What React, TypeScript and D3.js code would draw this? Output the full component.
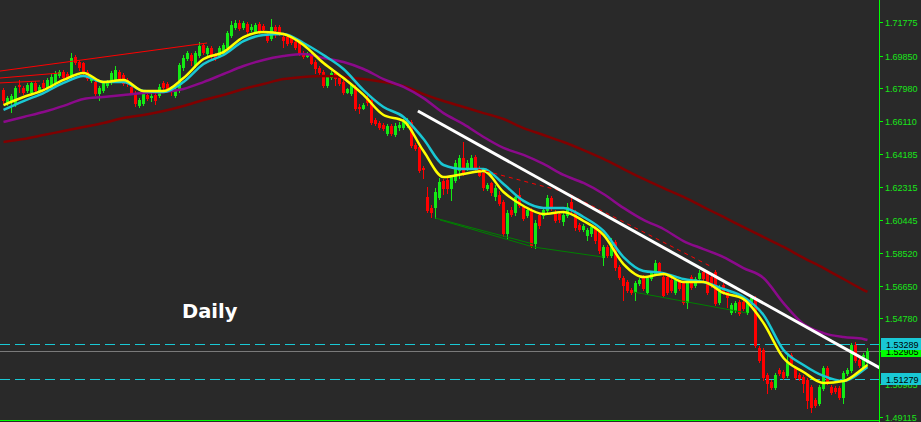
import React, { useEffect, useRef } from 'react';
import * as d3 from 'd3';

// daily candles, oldest first (prices)
const opens = [
  1.6787, 1.6713, 1.6730, 1.6713, 1.6816, 1.6799, 1.6787, 1.6776, 1.6828, 1.6787,
  1.6828, 1.6805, 1.6805, 1.6828, 1.6873, 1.6891, 1.6879, 1.6873, 1.6977, 1.6948,
  1.6942, 1.6891, 1.6845, 1.6833, 1.6770, 1.6787, 1.6816, 1.6833, 1.6845, 1.6891,
  1.6873, 1.6845, 1.6805, 1.6770, 1.6701, 1.6713, 1.6759, 1.6747, 1.6759, 1.6759,
  1.6828, 1.6822, 1.6805, 1.6759, 1.6787, 1.6919, 1.6971, 1.6988, 1.6931, 1.6988,
  1.7046, 1.7000, 1.7028, 1.6988, 1.6988, 1.7005, 1.7034, 1.7103, 1.7149, 1.7172,
  1.7149, 1.7166, 1.7137, 1.7126, 1.7166, 1.7155, 1.7103, 1.7086, 1.7149, 1.7149,
  1.7091, 1.7091, 1.7086, 1.7063, 1.7057, 1.7000, 1.6982, 1.6988, 1.6948, 1.6914,
  1.6891, 1.6816, 1.6862, 1.6885, 1.6862, 1.6833, 1.6776, 1.6770, 1.6805, 1.6690,
  1.6684, 1.6741, 1.6730, 1.6615, 1.6598, 1.6587, 1.6541, 1.6581, 1.6535, 1.6575,
  1.6575, 1.6587, 1.6604, 1.6472, 1.6460, 1.6340, 1.6174, 1.6111, 1.6117, 1.6174,
  1.6265, 1.6271, 1.6225, 1.6271, 1.6328, 1.6397, 1.6340, 1.6346, 1.6403, 1.6340,
  1.6311, 1.6225, 1.6254, 1.6179, 1.6185, 1.6145, 1.5967, 1.6099, 1.6088, 1.6185,
  1.6116, 1.6070, 1.6099, 1.5910, 1.6070, 1.6070, 1.6099, 1.6168, 1.6088, 1.6076,
  1.6036, 1.6070, 1.6145, 1.6088, 1.6013, 1.5990, 1.5955, 1.5967, 1.5996, 1.5973,
  1.5829, 1.5887, 1.5841, 1.5915, 1.5772, 1.5709, 1.5686, 1.5640, 1.5629, 1.5680,
  1.5714, 1.5629, 1.5709, 1.5737, 1.5795, 1.5714, 1.5714, 1.5697, 1.5629, 1.5686,
  1.5680, 1.5571, 1.5714, 1.5669, 1.5709, 1.5743, 1.5737, 1.5714, 1.5743, 1.5571,
  1.5669, 1.5629, 1.5514, 1.5525, 1.5571, 1.5571, 1.5514, 1.5571, 1.5594, 1.5307,
  1.5296, 1.5152, 1.5112, 1.5084, 1.5181, 1.5170, 1.5152, 1.5267, 1.5193, 1.5152,
  1.5141, 1.5124, 1.5084, 1.5009, 1.4992, 1.5078, 1.5193, 1.5084, 1.5078, 1.5078,
  1.5026, 1.5164, 1.5181, 1.5325, 1.5238, 1.5198, 1.5227
];
const highs = [
  1.6799, 1.6753, 1.6764, 1.6810, 1.6845, 1.6810, 1.6828, 1.6833, 1.6839, 1.6816,
  1.6845, 1.6856, 1.6879, 1.6896, 1.6902, 1.6902, 1.6891, 1.7000, 1.6988, 1.6960,
  1.6948, 1.6902, 1.6868, 1.6845, 1.6810, 1.6833, 1.6845, 1.6896, 1.6925, 1.6902,
  1.6885, 1.6856, 1.6816, 1.6782, 1.6741, 1.6776, 1.6770, 1.6770, 1.6770, 1.6822,
  1.6839, 1.6833, 1.6810, 1.6799, 1.6942, 1.6988, 1.7011, 1.7000, 1.7011, 1.7063,
  1.7057, 1.7040, 1.7040, 1.7000, 1.7040, 1.7057, 1.7126, 1.7183, 1.7189, 1.7189,
  1.7183, 1.7178, 1.7166, 1.7172, 1.7178, 1.7166, 1.7114, 1.7195, 1.7160, 1.7160,
  1.7103, 1.7103, 1.7097, 1.7074, 1.7068, 1.7011, 1.7005, 1.7000, 1.6960, 1.6925,
  1.6902, 1.6873, 1.6896, 1.6896, 1.6873, 1.6845, 1.6799, 1.6828, 1.6816, 1.6707,
  1.6713, 1.6759, 1.6741, 1.6627, 1.6610, 1.6598, 1.6592, 1.6592, 1.6598, 1.6604,
  1.6621, 1.6627, 1.6615, 1.6483, 1.6472, 1.6351, 1.6231, 1.6128, 1.6225, 1.6283,
  1.6277, 1.6283, 1.6300, 1.6386, 1.6414, 1.6489, 1.6386, 1.6414, 1.6414, 1.6351,
  1.6323, 1.6254, 1.6260, 1.6242, 1.6208, 1.6156, 1.6099, 1.6116, 1.6185, 1.6225,
  1.6128, 1.6111, 1.6111, 1.6042, 1.6082, 1.6116, 1.6185, 1.6179, 1.6099, 1.6088,
  1.6088, 1.6139, 1.6174, 1.6099, 1.6024, 1.6019, 1.5996, 1.6013, 1.6007, 1.5984,
  1.5898, 1.5898, 1.5938, 1.5927, 1.5783, 1.5720, 1.5697, 1.5652, 1.5692, 1.5709,
  1.5726, 1.5720, 1.5749, 1.5812, 1.5801, 1.5726, 1.5726, 1.5709, 1.5709, 1.5697,
  1.5692, 1.5692, 1.5726, 1.5714, 1.5755, 1.5755, 1.5749, 1.5726, 1.5755, 1.5669,
  1.5680, 1.5640, 1.5566, 1.5577, 1.5583, 1.5583, 1.5577, 1.5611, 1.5606, 1.5319,
  1.5307, 1.5164, 1.5124, 1.5164, 1.5193, 1.5181, 1.5267, 1.5279, 1.5204, 1.5164,
  1.5152, 1.5135, 1.5095, 1.5020, 1.5095, 1.5204, 1.5204, 1.5095, 1.5089, 1.5089,
  1.5175, 1.5192, 1.5336, 1.5342, 1.5250, 1.5279, 1.5307
];
const lows = [
  1.6713, 1.6701, 1.6661, 1.6696, 1.6776, 1.6764, 1.6776, 1.6764, 1.6776, 1.6776,
  1.6793, 1.6793, 1.6793, 1.6816, 1.6862, 1.6845, 1.6845, 1.6862, 1.6937, 1.6902,
  1.6879, 1.6845, 1.6833, 1.6759, 1.6730, 1.6776, 1.6805, 1.6822, 1.6833, 1.6845,
  1.6816, 1.6810, 1.6764, 1.6696, 1.6690, 1.6701, 1.6730, 1.6724, 1.6707, 1.6747,
  1.6793, 1.6787, 1.6759, 1.6747, 1.6776, 1.6902, 1.6960, 1.6931, 1.6919, 1.6977,
  1.6994, 1.6988, 1.6971, 1.6960, 1.6977, 1.6994, 1.7023, 1.7091, 1.7137, 1.7132,
  1.7137, 1.7114, 1.7126, 1.7114, 1.7114, 1.7126, 1.7063, 1.7074, 1.7091, 1.7103,
  1.7034, 1.7046, 1.7051, 1.7023, 1.6988, 1.6971, 1.6977, 1.6937, 1.6885, 1.6873,
  1.6805, 1.6805, 1.6850, 1.6816, 1.6816, 1.6764, 1.6770, 1.6759, 1.6673, 1.6655,
  1.6678, 1.6701, 1.6592, 1.6587, 1.6564, 1.6558, 1.6529, 1.6529, 1.6524, 1.6558,
  1.6564, 1.6575, 1.6460, 1.6443, 1.6317, 1.6283, 1.6088, 1.6059, 1.6053, 1.6162,
  1.6191, 1.6197, 1.6156, 1.6260, 1.6283, 1.6300, 1.6328, 1.6334, 1.6328, 1.6294,
  1.6214, 1.6214, 1.6185, 1.6156, 1.6128, 1.5950, 1.5938, 1.6065, 1.6070, 1.6116,
  1.6042, 1.6059, 1.5887, 1.5881, 1.5996, 1.6053, 1.6088, 1.6099, 1.6030, 1.6030,
  1.6013, 1.6059, 1.6088, 1.5984, 1.5979, 1.5979, 1.5927, 1.5950, 1.5910, 1.5852,
  1.5783, 1.5829, 1.5829, 1.5755, 1.5703, 1.5583, 1.5629, 1.5617, 1.5583, 1.5669,
  1.5640, 1.5617, 1.5697, 1.5726, 1.5732, 1.5600, 1.5617, 1.5629, 1.5617, 1.5640,
  1.5560, 1.5537, 1.5646, 1.5657, 1.5697, 1.5697, 1.5617, 1.5657, 1.5554, 1.5560,
  1.5617, 1.5543, 1.5503, 1.5514, 1.5497, 1.5525, 1.5503, 1.5560, 1.5313, 1.5227,
  1.5124, 1.5049, 1.5072, 1.5072, 1.5152, 1.5129, 1.5141, 1.5210, 1.5129, 1.5124,
  1.5055, 1.4963, 1.4940, 1.4969, 1.4980, 1.5066, 1.5101, 1.5043, 1.5049, 1.5015,
  1.4992, 1.5152, 1.5170, 1.5227, 1.5198, 1.5187, 1.5216
];
const closes = [
  1.6730, 1.6741, 1.6753, 1.6799, 1.6810, 1.6776, 1.6816, 1.6828, 1.6787, 1.6805,
  1.6805, 1.6845, 1.6862, 1.6885, 1.6891, 1.6862, 1.6856, 1.6971, 1.6948, 1.6919,
  1.6891, 1.6856, 1.6856, 1.6770, 1.6799, 1.6828, 1.6833, 1.6885, 1.6902, 1.6856,
  1.6828, 1.6828, 1.6776, 1.6713, 1.6730, 1.6770, 1.6741, 1.6753, 1.6730, 1.6805,
  1.6805, 1.6799, 1.6787, 1.6787, 1.6931, 1.6971, 1.7000, 1.6960, 1.7000, 1.7040,
  1.7005, 1.7028, 1.6988, 1.6971, 1.7028, 1.7046, 1.7114, 1.7160, 1.7172, 1.7143,
  1.7172, 1.7126, 1.7149, 1.7160, 1.7126, 1.7137, 1.7074, 1.7149, 1.7132, 1.7120,
  1.7074, 1.7057, 1.7063, 1.7034, 1.7000, 1.6982, 1.6994, 1.6942, 1.6914, 1.6891,
  1.6816, 1.6862, 1.6885, 1.6856, 1.6828, 1.6776, 1.6793, 1.6816, 1.6684, 1.6684,
  1.6701, 1.6719, 1.6604, 1.6598, 1.6575, 1.6570, 1.6581, 1.6541, 1.6581, 1.6587,
  1.6604, 1.6610, 1.6472, 1.6455, 1.6328, 1.6334, 1.6099, 1.6088, 1.6202, 1.6260,
  1.6225, 1.6225, 1.6288, 1.6369, 1.6397, 1.6311, 1.6369, 1.6397, 1.6346, 1.6300,
  1.6231, 1.6242, 1.6202, 1.6225, 1.6139, 1.5967, 1.6082, 1.6076, 1.6174, 1.6128,
  1.6053, 1.6099, 1.5898, 1.6024, 1.6013, 1.6099, 1.6168, 1.6116, 1.6042, 1.6047,
  1.6070, 1.6116, 1.6099, 1.6001, 1.5990, 1.6007, 1.5984, 1.6001, 1.5927, 1.5869,
  1.5887, 1.5841, 1.5915, 1.5772, 1.5714, 1.5669, 1.5640, 1.5629, 1.5680, 1.5697,
  1.5652, 1.5709, 1.5737, 1.5795, 1.5743, 1.5611, 1.5629, 1.5640, 1.5697, 1.5652,
  1.5571, 1.5680, 1.5657, 1.5703, 1.5737, 1.5709, 1.5629, 1.5669, 1.5566, 1.5657,
  1.5629, 1.5600, 1.5554, 1.5566, 1.5508, 1.5537, 1.5566, 1.5594, 1.5325, 1.5238,
  1.5141, 1.5107, 1.5084, 1.5152, 1.5164, 1.5141, 1.5227, 1.5221, 1.5141, 1.5135,
  1.5107, 1.5009, 1.4969, 1.4980, 1.5084, 1.5193, 1.5112, 1.5055, 1.5061, 1.5026,
  1.5164, 1.5181, 1.5325, 1.5238, 1.5210, 1.5267, 1.52905
];

// moving averages, read every 5th bar
const maBars = [
  0, 5, 10, 15, 20, 25, 30, 35, 40, 45, 50, 55, 60, 65, 70, 75, 80, 85, 90, 95,
  100, 105, 110, 115, 120, 125, 130, 135, 140, 145, 150, 155, 160, 165, 170, 175,
  180, 185, 190, 195, 200, 205, 210, 215, 216
];
const maYellow = [
  1.6701, 1.6747, 1.6787, 1.6845, 1.6885, 1.6833, 1.6845, 1.6782, 1.6782, 1.6856,
  1.6965, 1.7005, 1.7091, 1.7120, 1.7109, 1.7046, 1.6942, 1.6856, 1.6759, 1.6644,
  1.6610, 1.6437, 1.6288, 1.6306, 1.6323, 1.6202, 1.6122, 1.6076, 1.6088, 1.6036,
  1.5956, 1.5789, 1.5714, 1.5732, 1.5686, 1.5686, 1.5623, 1.5588, 1.5451, 1.5250,
  1.5170, 1.5107, 1.5118, 1.5193, 1.5210
];
const maCyan = [
  1.6673, 1.6724, 1.6770, 1.6828, 1.6868, 1.6833, 1.6833, 1.6782, 1.6776, 1.6833,
  1.6937, 1.6988, 1.7068, 1.7103, 1.7109, 1.7057, 1.6988, 1.6908, 1.6787, 1.6690,
  1.6633, 1.6506, 1.6357, 1.6334, 1.6334, 1.6248, 1.6151, 1.6111, 1.6111, 1.6059,
  1.5979, 1.5829, 1.5749, 1.5737, 1.5703, 1.5686, 1.5646, 1.5600, 1.5497, 1.5296,
  1.5210, 1.5147, 1.5118, 1.5181, 1.5198
];
const maPurple = [
  1.6604, 1.6633, 1.6661, 1.6696, 1.6736, 1.6747, 1.6759, 1.6770, 1.6776, 1.6793,
  1.6833, 1.6879, 1.6925, 1.6960, 1.6982, 1.6994, 1.6971, 1.6948, 1.6908, 1.6850,
  1.6805, 1.6741, 1.6655, 1.6592, 1.6518, 1.6455, 1.6415, 1.6363, 1.6300, 1.6254,
  1.6191, 1.6111, 1.6042, 1.5990, 1.5921, 1.5875, 1.5829, 1.5766, 1.5709, 1.5565,
  1.5445, 1.5393, 1.5370, 1.5359, 1.5353
];
const maMaroon = [
  1.6489, 1.6506, 1.6529, 1.6552, 1.6575, 1.6598, 1.6627, 1.6644, 1.6667, 1.6696,
  1.6730, 1.6759, 1.6793, 1.6822, 1.6850, 1.6862, 1.6868, 1.6862, 1.6850, 1.6833,
  1.6810, 1.6764, 1.6724, 1.6690, 1.6655, 1.6621, 1.6569, 1.6529, 1.6489, 1.6443,
  1.6392, 1.6334, 1.6277, 1.6225, 1.6174, 1.6116, 1.6059, 1.6001, 1.5944, 1.5887,
  1.5824, 1.5766, 1.5703, 1.5640, 1.5629
];

const priceTicks = [
  1.71775, 1.69850, 1.67980, 1.66110, 1.64185, 1.62315, 1.60445,
  1.58520, 1.56650, 1.54780, 1.52910, 1.50985, 1.49115
];
const levels = [1.53289, 1.51279];
const bid = 1.52905;

// trendlines as [bar, price] points
const whiteTrend = [[103.6, 1.6667], [219.1, 1.5193]];
const redDashTrend = [[118.6, 1.6334], [140.4, 1.6202], [176.6, 1.5778]];
const greenTrends = [
  [[107.9, 1.6053], [132.4, 1.5904]],
  [[109.1, 1.6042], [132.4, 1.5887], [149.9, 1.5829]],
  [[157.4, 1.5629], [185.9, 1.5508]]
];
const redTrends = [
  [[-0.9, 1.6896], [50.9, 1.7057]],
  [[-0.9, 1.6856], [14.1, 1.6885]],
  [[-0.9, 1.6828], [9.1, 1.6839]]
];

const W = 921, H = 422, axisX = 879;
const bg = '#292929', lime = '#00ff00', bull = '#14ea14', bear = '#ff0000', cyan = '#19c8d4';

export default function App() {
  const ref = useRef<SVGSVGElement>(null);

  useEffect(() => {
    const svg = d3.select(ref.current);
    svg.selectAll('*').remove();

    var x = d3.scaleLinear().domain([0, closes.length - 1]).range([3.5, 867.5]);
    var y = d3.scaleLinear().domain([1.49115, 1.71775]).range([417, 22]);
    const py = (v: number) => Math.round(y(v));
    const fmt = d3.format('.5f');

    svg.append('rect').attr('width', W).attr('height', H).attr('fill', bg);

    svg.append('defs').append('clipPath').attr('id', 'plotClip')
      .append('rect').attr('width', axisX).attr('height', H - 1);
    const plot = svg.append('g').attr('clip-path', 'url(#plotClip)');

    // horizontal levels + bid line
    plot.selectAll('line.level').data(levels).join('line')
      .attr('class', 'level')
      .attr('x1', 0).attr('x2', axisX)
      .attr('y1', d => py(d) + 0.5).attr('y2', d => py(d) + 0.5)
      .attr('stroke', cyan).attr('stroke-dasharray', '10,5');
    plot.append('line')
      .attr('x1', 0).attr('x2', axisX)
      .attr('y1', py(bid) + 0.5).attr('y2', py(bid) + 0.5)
      .attr('stroke', '#7a7a7a');

    // candles
    const idx = d3.range(closes.length);
    const col = (i: number) => closes[i] >= opens[i] ? bull : bear;
    plot.selectAll('rect.wick').data(idx).join('rect')
      .attr('class', 'wick')
      .attr('x', i => x(i) - 0.5).attr('width', 1)
      .attr('y', i => py(highs[i]))
      .attr('height', i => Math.max(1, py(lows[i]) - py(highs[i]) + 1))
      .attr('fill', col);
    plot.selectAll('rect.body').data(idx).join('rect')
      .attr('class', 'body')
      .attr('x', i => x(i) - 1.5).attr('width', 3)
      .attr('y', i => Math.min(py(opens[i]), py(closes[i])))
      .attr('height', i => Math.abs(py(opens[i]) - py(closes[i])) + 1)
      .attr('fill', col);

    // moving averages
    const maLine = d3.line<number>()
      .x((_, k) => x(maBars[k]))
      .y(v => y(v))
      .curve(d3.curveMonotoneX);
    [[maMaroon, '#800000'], [maPurple, '#8b0a8b'], [maCyan, cyan], [maYellow, '#ffff00']]
      .forEach(([vals, c]) => {
        plot.append('path')
          .attr('d', maLine(vals as number[]))
          .attr('fill', 'none')
          .attr('stroke', c as string)
          .attr('stroke-width', 2.5);
      });

    // trendlines
    const tl = d3.line<number[]>().x(d => x(d[0])).y(d => y(d[1]));
    redTrends.forEach(t => {
      plot.append('path').attr('d', tl(t)).attr('fill', 'none').attr('stroke', '#ff0000');
    });
    greenTrends.forEach(t => {
      plot.append('path').attr('d', tl(t)).attr('fill', 'none').attr('stroke', '#008000');
    });
    plot.append('path').attr('d', tl(redDashTrend)).attr('fill', 'none')
      .attr('stroke', '#ff0000').attr('stroke-dasharray', '4,4');
    plot.append('path').attr('d', tl(whiteTrend)).attr('fill', 'none')
      .attr('stroke', '#ffffff').attr('stroke-width', 3);

    // label
    svg.append('text')
      .attr('x', 182).attr('y', 318)
      .attr('fill', '#ffffff')
      .attr('font-family', 'DejaVu Sans, sans-serif')
      .attr('font-weight', 'bold')
      .attr('font-size', 19.5)
      .text('Daily');

    // price axis
    svg.append('line')
      .attr('x1', axisX + 0.5).attr('x2', axisX + 0.5)
      .attr('y1', 0).attr('y2', H)
      .attr('stroke', lime);
    svg.append('line')
      .attr('x1', 0).attr('x2', axisX + 1)
      .attr('y1', H - 1.5).attr('y2', H - 1.5)
      .attr('stroke', lime);

    const ticks = svg.append('g');
    ticks.selectAll('line').data(priceTicks).join('line')
      .attr('x1', axisX + 1).attr('x2', axisX + 4)
      .attr('y1', d => py(d) + 0.5).attr('y2', d => py(d) + 0.5)
      .attr('stroke', lime);
    ticks.selectAll('text').data(priceTicks).join('text')
      .attr('x', 885).attr('y', d => py(d) + 0.5)
      .attr('dy', '0.35em')
      .attr('fill', '#19e619')
      .attr('font-family', 'Liberation Sans, Arial, sans-serif')
      .attr('font-size', 9)
      .text(d => fmt(d));

    // bid tag, then level tags on top
    const tag = (v: number, fill: string) => {
      const g = svg.append('g');
      g.append('rect')
        .attr('x', 881).attr('y', py(v) - 6)
        .attr('width', W - 881).attr('height', 12)
        .attr('fill', fill);
      g.append('text')
        .attr('x', 886).attr('y', py(v) + 0.5)
        .attr('dy', '0.35em')
        .attr('fill', '#000000')
        .attr('font-family', 'Liberation Sans, Arial, sans-serif')
        .attr('font-size', 9)
        .text(fmt(v));
    };
    tag(bid, lime);
    levels.forEach(v => tag(v, cyan));
  }, []);

  return (
    <svg ref={ref} width={W} height={H}
      style={{ position: 'absolute', left: 0, top: 0, display: 'block' }} />
  );
}
